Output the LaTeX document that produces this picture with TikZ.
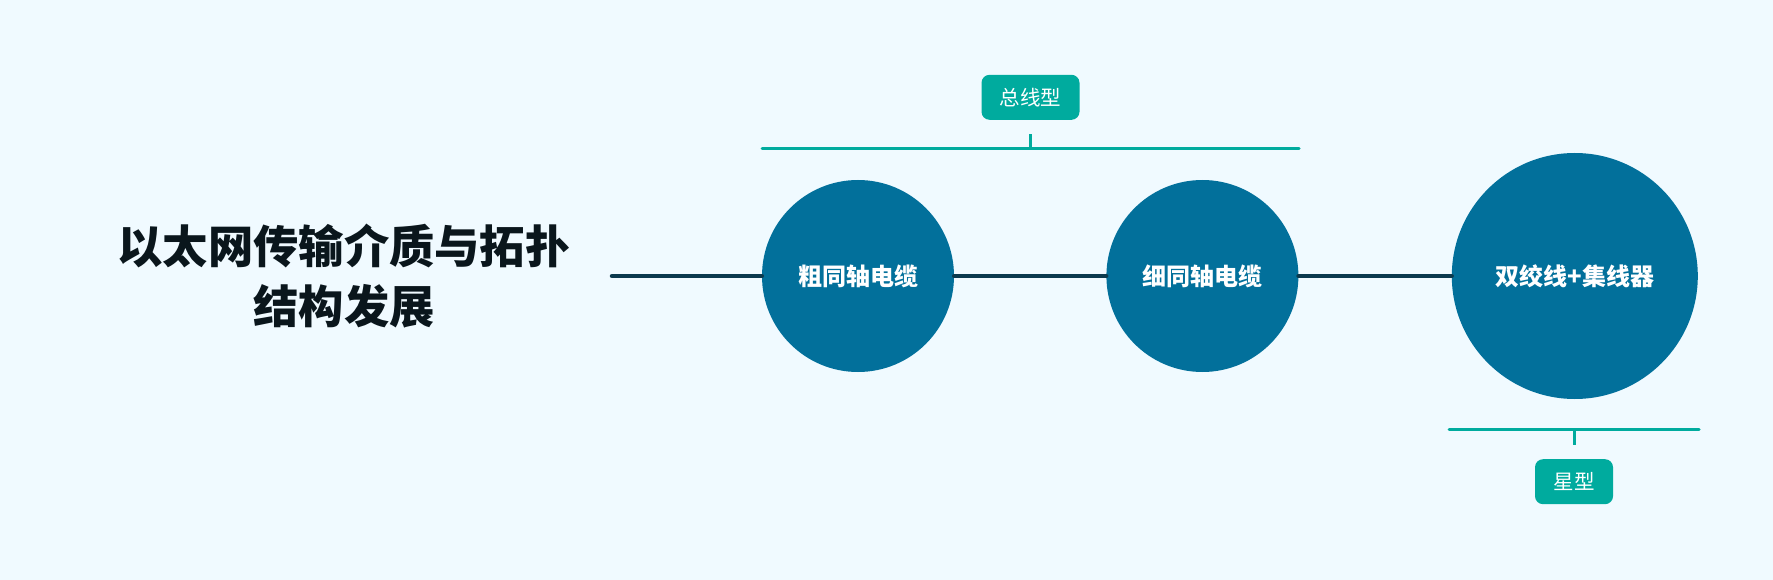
\documentclass[tikz,border=0pt]{standalone}
\usepackage{fontspec}
\newfontfamily\cjk{Noto Sans CJK SC}
\usetikzlibrary{positioning}

\definecolor{bgcol}{HTML}{F0FAFF}
\definecolor{mediacol}{HTML}{02709B}
\definecolor{tagcol}{HTML}{00AB9E}
\definecolor{trunkcol}{HTML}{0B3A4E}
\definecolor{titlecol}{HTML}{0A161C}

\begin{document}
\begin{tikzpicture}[
        x=1pt, y=-1pt,
        media/.style={circle, fill=mediacol, minimum size=192pt, inner sep=0pt, text=white, font=\cjk\bfseries\fontsize{24}{28}\selectfont},
        bigmedia/.style={media, minimum size=246pt},
        tag/.style={rectangle, rounded corners=8pt, fill=tagcol, text=white, minimum height=45pt, inner sep=0pt, font=\cjk\fontsize{20.5}{24}\selectfont},
        trunk/.style={-, line width=4.5pt, draw=trunkcol, line cap=round},
        bracket/.style={-, line width=3pt, draw=tagcol, line cap=round}
    ]
        \fill[bgcol] (0,0) rectangle (1773,580);
        \useasboundingbox (0,0) rectangle (1773,580);

        % Title
        \node[align=center, text=titlecol, font=\cjk\bfseries\fontsize{45.3}{60}\selectfont] (title) at (344,276) {以太网传输介质与拓扑\\结构发展};

        % Media along the trunk
        \coordinate (start) at (612,276);
        \node[media] (thick) at (858,276) {粗同轴电缆};
        \node[media, right=152pt of thick] (thin) {细同轴电缆};
        \node[bigmedia, right=153pt of thin] (twisted) {双绞线+集线器};
        \draw[trunk] (start) -- (thick.west);
        \draw[trunk] (thick.east) -- (thin.west);
        \draw[trunk] (thin.east) -- (twisted.west);

        % Bus topology
        \coordinate (busL) at (762,149);
        \coordinate (busR) at (1299,149);
        \coordinate (busM) at (1030.5,149);
        \coordinate (busT) at (1030.5,134);
        \draw[bracket] (busL) -- (busR);
        \draw[bracket, line cap=butt] (busM) -- (busT);
        \node[tag, minimum width=98pt, above=14pt of busT] (bus) {总线型};

        % Star topology
        \coordinate (starL) at (1449,429);
        \coordinate (starR) at (1699,429);
        \coordinate (starM) at (1574,429);
        \coordinate (starB) at (1574,445);
        \draw[bracket] (starL) -- (starR);
        \draw[bracket, line cap=butt] (starM) -- (starB);
        \node[tag, minimum width=78pt, below=14pt of starB] (star) {星型};
    \end{tikzpicture}
\end{document}
